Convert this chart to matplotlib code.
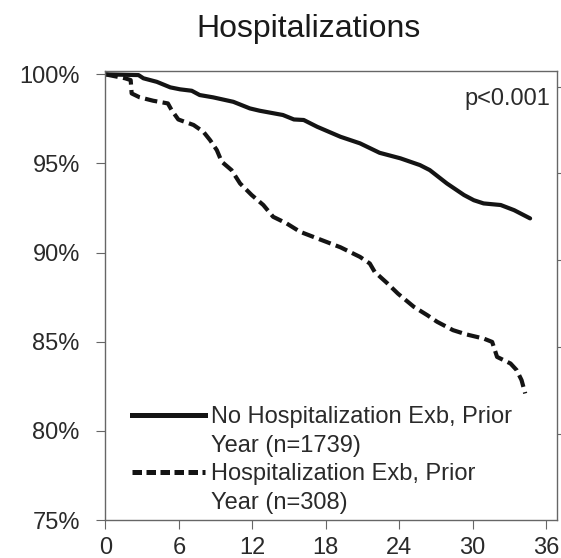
import matplotlib
matplotlib.use("Agg")
import matplotlib.pyplot as plt
from matplotlib.lines import Line2D
from matplotlib.ticker import FuncFormatter

plt.rcParams['font.family'] = ['Liberation Sans', 'DejaVu Sans']

# ---- data (months, % free of hospitalization) ----
no_hosp_months = [0, 2.7, 3.1, 4.2, 5.3, 6.1, 7.05, 7.7, 8.8, 10.45, 11.8, 12.6, 14.5,
                  15.4, 16.2, 17.3, 19.2, 20.8, 22.4, 24.1, 25.7, 26.5, 27.9, 29.3,
                  30.1, 30.9, 32.3, 33.4, 34.7]
no_hosp_surv = [100, 99.96, 99.78, 99.58, 99.27, 99.16, 99.08, 98.84, 98.71, 98.46, 98.09,
                97.96, 97.72, 97.47, 97.44, 97.06, 96.5, 96.13, 95.6, 95.29, 94.91, 94.63,
                93.88, 93.23, 92.94, 92.76, 92.67, 92.38, 91.92]

hosp_months = [0, 1.6, 2.06, 2.14, 2.8, 3.9, 5.1, 5.4, 5.95, 7.2, 8.0, 8.55, 9.1, 9.5,
               10.3, 11.0, 11.95, 12.9, 13.7, 14.8, 15.9, 17.3, 19.2, 20.8, 21.6, 22.0,
               23.0, 23.9, 25.2, 26.3, 27.1, 28.4, 29.5, 30.9, 31.6, 32.0, 33.1, 33.6,
               34.0, 34.3]
hosp_surv = [100, 99.78, 99.68, 98.93, 98.71, 98.52, 98.37, 98.0, 97.47, 97.16, 96.78,
             96.31, 95.75, 95.1, 94.63, 93.88, 93.23, 92.67, 92.01, 91.64, 91.17, 90.8,
             90.3, 89.76, 89.39, 88.92, 88.3, 87.7, 86.96, 86.49, 86.12, 85.65, 85.41,
             85.18, 84.99, 84.15, 83.78, 83.41, 82.85, 82.1]

x_ticks = [0, 6, 12, 18, 24, 30, 36]
y_ticks = [75, 80, 85, 90, 95, 100]
right_ticks = [99.30, 94.44, 89.58, 84.68, 79.81]

label_no = ["No Hospitalization Exb, Prior", "Year (n=1739)"]
label_yes = ["Hospitalization Exb, Prior", "Year (n=308)"]
title = "Hospitalizations"
p_text = "p<0.001"

# ---- figure ----
fig = plt.figure(figsize=(5.61, 5.58), dpi=100)
ax = fig.add_axes([0.188, 0.0681, 0.8049, 0.8047])

line_col = '#141414'
ax.plot(no_hosp_months, no_hosp_surv, color=line_col, lw=3.0, solid_capstyle='round',
        solid_joinstyle='round')
ax.plot(hosp_months, hosp_surv, color=line_col, lw=3.0, dashes=(3.0, 1.3),
        dash_capstyle='butt')

ax.set_xlim(0, 36.9)
ax.set_ylim(75, 100.19)
ax.set_xticks(x_ticks)
ax.set_yticks(y_ticks)
ax.yaxis.set_major_formatter(FuncFormatter(lambda v, p: f"{v:.0f}%"))

spine_col = '#666666'
for s in ax.spines.values():
    s.set_color(spine_col)
    s.set_linewidth(1.0)

ax.tick_params(axis='y', direction='out', length=6.5, width=0.8, color=spine_col,
               labelsize=17, labelcolor='#2a2a2a', pad=12)
ax.tick_params(axis='x', direction='out', length=6.5, width=0.8, color=spine_col,
               labelsize=17, labelcolor='#2a2a2a', pad=6)

ax2 = ax.twinx()
ax2.set_ylim(ax.get_ylim())
ax2.set_yticks(right_ticks)
ax2.set_yticklabels([])
ax2.tick_params(axis='y', direction='out', length=5, width=0.8, color=spine_col)
for s in ax2.spines.values():
    s.set_visible(False)

ax.text(0.9845, 0.924, p_text, transform=ax.transAxes, ha='right', va='baseline',
        fontsize=17, color='#2a2a2a')

fig.text(0.55, 0.9337, title, ha='center', va='baseline', fontsize=23, color='#1a1a1a')

handles = [
    Line2D([], [], color=line_col, lw=3.6),
    Line2D([], [], color='none'),
    Line2D([], [], color=line_col, lw=3.6, dashes=(1.9, 0.9)),
    Line2D([], [], color='none'),
]
labels = [label_no[0], label_no[1], label_yes[0], label_yes[1]]
leg = ax.legend(handles, labels, loc='upper left', bbox_to_anchor=(0.058, 0.254),
                frameon=False, fontsize=17, handlelength=3.1, handletextpad=0.28,
                labelspacing=0.28, borderpad=0, borderaxespad=0)
for t in leg.get_texts():
    t.set_color('#2a2a2a')

fig.savefig("out.png", dpi=100)
